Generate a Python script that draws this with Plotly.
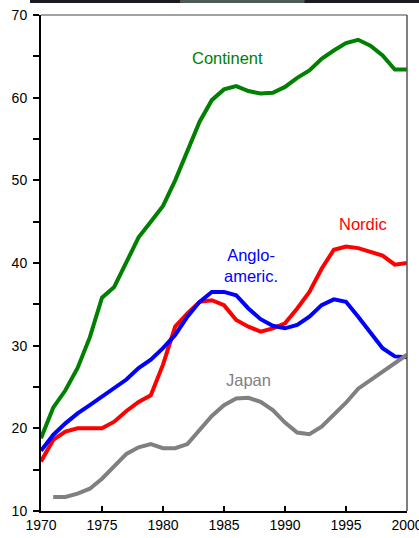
import plotly.graph_objects as go

years = list(range(1970, 2001))
continent = [18.8, 22.5, 24.6, 27.3, 31.0, 35.8, 37.1, 40.1, 43.1, 45.0, 46.9,
             50.0, 53.5, 57.1, 59.7, 61.0, 61.4, 60.8, 60.5, 60.6, 61.3,
             62.4, 63.3, 64.7, 65.7, 66.6, 67.0, 66.3, 65.1, 63.4, 63.4]
nordic = [16.0, 18.6, 19.6, 20.0, 20.0, 20.0, 20.8, 22.1, 23.2, 24.0, 27.7,
          32.3, 33.9, 35.3, 35.5, 34.9, 33.1, 32.3, 31.7, 32.1, 32.7,
          34.5, 36.5, 39.3, 41.6, 42.0, 41.8, 41.4, 40.9, 39.8, 40.0]
anglo = [17.3, 19.2, 20.6, 21.8, 22.8, 23.8, 24.9, 25.9, 27.3, 28.3, 29.7,
         31.3, 33.5, 35.3, 36.5, 36.5, 36.1, 34.5, 33.2, 32.4, 32.1,
         32.5, 33.5, 34.9, 35.6, 35.3, 33.5, 31.5, 29.7, 28.7, 28.6]
japan_years = list(range(1971, 2001))
japan = [11.7, 11.7, 12.1, 12.7, 13.9, 15.4, 16.9, 17.7, 18.1, 17.6,
         17.6, 18.1, 19.8, 21.5, 22.8, 23.6, 23.7, 23.2, 22.2, 20.7,
         19.5, 19.3, 20.2, 21.6, 23.1, 24.8, 25.8, 26.8, 27.8, 28.9]

x_ticks = [1970, 1975, 1980, 1985, 1990, 1995, 2000]
y_ticks = [10, 15, 20, 25, 30, 35, 40, 45, 50, 55, 60, 65, 70]
y_text = [str(v) if v % 10 == 0 else "" for v in y_ticks]

series = [
    ("Continent", years, continent, "#008000"),
    ("Nordic", years, nordic, "#ff0000"),
    ("Anglo-americ.", years, anglo, "#0000ff"),
    ("Japan", japan_years, japan, "#808080"),
]

labels = [
    ("Continent", 1985.3, 64.8, "#008000"),
    ("Nordic", 1996.4, 44.7, "#ff0000"),
    ("Anglo-<br>americ.", 1987.2, 39.7, "#0000ff"),
    ("Japan", 1987.0, 25.8, "#808080"),
]

FONT = "Arial, Liberation Sans, sans-serif"

fig = go.Figure()
for name, xs, ys, col in series:
    fig.add_trace(go.Scatter(x=xs, y=ys, mode="lines", name=name,
                             line=dict(color=col, width=4), showlegend=False))

for txt, xv, yv, col in labels:
    fig.add_annotation(x=xv, y=yv, text=txt, showarrow=False,
                       font=dict(family=FONT, size=16.5, color=col))

# top and right frame lines
fig.add_shape(type="line", xref="paper", yref="paper", x0=0, x1=1, y0=1, y1=1,
              line=dict(color="#444444", width=1))
fig.add_shape(type="line", xref="paper", yref="paper", x0=1, x1=1, y0=0, y1=1,
              line=dict(color="#555555", width=1.5))
# dark strip at the very top
fig.add_shape(type="rect", xref="paper", yref="paper", x0=-0.03, x1=1.04,
              y0=1.024, y1=1.04, line=dict(width=0), fillcolor="#1c1a20")
fig.add_shape(type="rect", xref="paper", yref="paper", x0=0.38, x1=0.72,
              y0=1.024, y1=1.04, line=dict(width=0), fillcolor="#4e5a55")

fig.update_layout(
    width=419, height=538,
    margin=dict(l=41, r=12, t=15, b=27, autoexpand=False),
    plot_bgcolor="white", paper_bgcolor="white",
    font=dict(family=FONT, size=14, color="black"),
    xaxis=dict(range=[1970, 2000], tickvals=x_ticks, ticks="inside", ticklen=5,
               tickwidth=1.5, tickcolor="black", showline=True, linecolor="black",
               linewidth=2, showgrid=False, zeroline=False, automargin=False,
               ticklabeloverflow="allow",
               tickfont=dict(family=FONT, size=14, color="black")),
    yaxis=dict(range=[10, 70], tickvals=y_ticks, ticktext=y_text, ticks="outside",
               ticklen=6, tickwidth=1.5, tickcolor="black", showline=True,
               linecolor="black", linewidth=2, showgrid=False, zeroline=False,
               automargin=False, ticklabelstandoff=3,
               tickfont=dict(family=FONT, size=14, color="black")),
)

fig.write_html(
    "out.html",
    config={"displayModeBar": False},
    post_script="document.body.style.margin='0';document.body.style.padding='0';"
                "document.body.style.overflow='hidden';",
)
